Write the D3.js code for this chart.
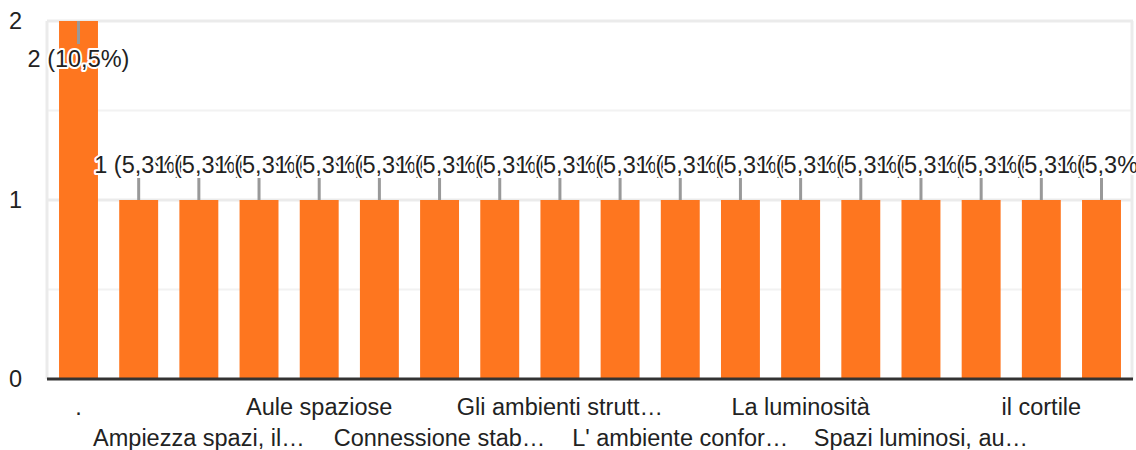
<!DOCTYPE html>
<html>
<head>
<meta charset="utf-8">
<script src="https://cdn.jsdelivr.net/npm/d3@7"></script>
<style>
  body { margin: 0; background: #fff; }
  text { font-family: "Liberation Sans", Arial, sans-serif; fill: #222; }
</style>
</head>
<body>
<script>
'use strict';

// categories as shown on the axis (hidden ones are never drawn)
const categories = [
  ".", "Accoglienza", "Ampiezza spazi, il…", "Aule ampie", "Aule spaziose",
  "Bagni puliti", "Connessione stab…", "Cortile ampio", "Gli ambienti strutt…",
  "I laboratori", "L' ambiente confor…", "La biblioteca", "La luminosità",
  "Laboratori attrezzati", "Spazi luminosi, au…", "Spazi verdi", "il cortile", "la palestra"
];
const counts = [2, 1, 1, 1, 1, 1, 1, 1, 1, 1, 1, 1, 1, 1, 1, 1, 1, 1];
const percents = ["10,5%", "5,3%", "5,3%", "5,3%", "5,3%", "5,3%", "5,3%", "5,3%", "5,3%",
                  "5,3%", "5,3%", "5,3%", "5,3%", "5,3%", "5,3%", "5,3%", "5,3%", "5,3%"];
const yTicks = [0, 1, 2];

const width = 1136, height = 450;
const margin = {top: 21, right: 3, bottom: 71, left: 47};
const fontSize = "23.5px";

const svg = d3.select("body").append("svg")
    .attr("width", width)
    .attr("height", height);

const x = d3.scaleBand()
    .domain(categories)
    .range([margin.left, width - margin.right])
    .paddingInner(0.353)
    .paddingOuter(0.2);

const y = d3.scaleLinear()
    .domain([0, 2])
    .range([height - margin.bottom, margin.top]);

// light grid
const grid = svg.append("g");
grid.selectAll("line.h")
    .data(d3.range(0.5, 2.01, 0.5))
    .enter().append("line")
      .attr("x1", margin.left).attr("x2", width - margin.right)
      .attr("y1", d => y(d)).attr("y2", d => y(d))
      .attr("stroke", d => d % 1 === 0 ? "#ebebeb" : "#f2f2f2")
      .attr("stroke-width", d => d % 1 === 0 ? 3 : 2);
grid.selectAll("line.v")
    .data([margin.left, width - margin.right - 1])
    .enter().append("line")
      .attr("x1", d => d).attr("x2", d => d)
      .attr("y1", y(2)).attr("y2", y(0))
      .attr("stroke", "#ebebeb")
      .attr("stroke-width", 3);

// y tick labels
svg.append("g").selectAll("text")
    .data(yTicks)
    .enter().append("text")
      .attr("x", 9)
      .attr("y", d => y(d))
      .attr("dy", "0.35em")
      .style("font-size", fontSize)
      .text(d => d);

// bars
svg.append("g").selectAll("rect")
    .data(counts)
    .enter().append("rect")
      .attr("x", (d, i) => x(categories[i]))
      .attr("y", d => y(d))
      .attr("width", x.bandwidth())
      .attr("height", d => y(0) - y(d))
      .attr("fill", "#fe761f");

// baseline
svg.append("line")
    .attr("x1", margin.left).attr("x2", width - margin.right)
    .attr("y1", y(0)).attr("y2", y(0))
    .attr("stroke", "#333")
    .attr("stroke-width", 3);

// value labels with stems
const maxCount = d3.max(counts);
const ann = svg.append("g");
counts.forEach((d, i) => {
  const cx = x(categories[i]) + x.bandwidth() / 2;
  const inside = d === maxCount;
  const y1 = y(d), y2 = inside ? y(d) + 23 : y(d) - 22;
  ann.append("line")
      .attr("x1", cx).attr("x2", cx)
      .attr("y1", y1).attr("y2", y2)
      .attr("stroke", "#999")
      .attr("stroke-width", 3);
  ann.append("text")
      .attr("x", cx)
      .attr("y", inside ? y2 + 15 : y2 - 13)
      .attr("dy", "0.35em")
      .attr("text-anchor", "middle")
      .style("font-size", fontSize)
      .style("stroke", "#fff")
      .style("stroke-width", 4)
      .style("stroke-linejoin", "round")
      .style("paint-order", "stroke")
      .text(d + " (" + percents[i] + ")");
});

// x labels, every other one, staggered in two rows
svg.append("g").selectAll("text")
    .data(categories.filter((c, i) => i % 2 === 0))
    .enter().append("text")
      .attr("x", d => x(d) + x.bandwidth() / 2)
      .attr("y", (d, j) => j % 2 === 0 ? 407 : 438)
      .attr("dy", "0.35em")
      .attr("text-anchor", "middle")
      .style("font-size", fontSize)
      .text(d => d);
</script>
</body>
</html>
